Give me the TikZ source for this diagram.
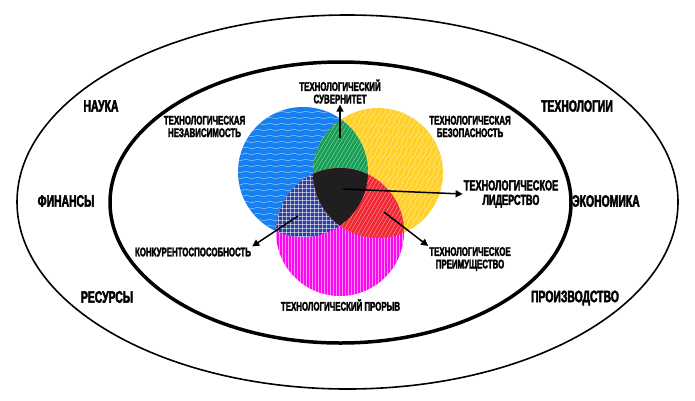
\documentclass[tikz,border=0pt]{standalone}
\usepackage{fontspec}
\newfontfamily\lblfont[FakeStretch=0.63,FakeBold=2.5]{Liberation Sans}
\usepackage{tikz}
\usetikzlibrary{decorations.pathmorphing,positioning,arrows.meta}

\definecolor{vblue}{RGB}{22,128,240}
\definecolor{vyellow}{RGB}{255,208,40}
\definecolor{vmagenta}{RGB}{250,10,240}
\definecolor{vgreen}{RGB}{24,158,84}
\definecolor{vnavy}{RGB}{44,62,160}
\definecolor{vred}{RGB}{240,40,52}
\definecolor{vblack}{RGB}{32,30,30}

\begin{document}
\begin{tikzpicture}[x=1pt,y=-1pt,>={Triangle[length=7pt,width=7pt]},
  lbl/.style={font=\lblfont\bfseries\fontsize{12.5}{12.5}\selectfont,align=center,inner sep=1pt},
  big/.style={font=\lblfont\bfseries\fontsize{16.5}{16.5}\selectfont,inner sep=1pt},
  arr/.style={->,line width=1.5pt},
  wave/.style={white,line width=.5pt,opacity=.55,decorate,decoration={snake,amplitude=.8pt,segment length=12pt}},
  hatch/.style={white,line width=.4pt,opacity=.55}]
  \useasboundingbox (0,0) rectangle (695,400);
  % rings
  \draw[line width=1.6pt] (347.5,202) ellipse [x radius=330.5,y radius=187];
  \draw[line width=3.5pt] (340.5,202.5) ellipse [x radius=230.5,y radius=140.5];
  % the three circles
  \fill[vblue] (303,172) circle [radius=65];
  \begin{scope}
    \clip (303,172) circle [radius=65];
    \foreach \yy in {106,112,...,240} \draw[wave] (230,\yy) -- (375,\yy);
  \end{scope}
  \fill[vyellow] (378,173) circle [radius=65];
  \begin{scope}
    \clip (378,173) circle [radius=65];
    \foreach \xx in {225,230,...,450} \draw[wave] (\xx,245) -- ++(90,-150);
  \end{scope}
  \fill[vmagenta] (340,232) circle [radius=64];
  \begin{scope}
    \clip (340,232) circle [radius=64];
    \foreach \xx in {276,279,...,405} \draw[hatch] (\xx,166) -- (\xx,298);
  \end{scope}
  % overlaps
  \begin{scope}
    \clip (303,172) circle [radius=65];
    \fill[vgreen] (378,173) circle [radius=65];
    \clip (378,173) circle [radius=65];
    \foreach \xx in {250,254,...,370} \draw[hatch] (\xx,200) -- ++(60,-100);
  \end{scope}
  \begin{scope}
    \clip (303,172) circle [radius=65];
    \clip (340,232) circle [radius=64];
    \fill[vnavy] (270,160) rectangle (410,300);
    \foreach \xx in {270,274,...,410} \draw[hatch] (\xx,160) -- (\xx,300);
    \foreach \yy in {160,164,...,300} \draw[hatch] (270,\yy) -- (410,\yy);
  \end{scope}
  \begin{scope}
    \clip (378,173) circle [radius=65];
    \clip (340,232) circle [radius=64];
    \fill[vred] (270,160) rectangle (450,300);
    \foreach \xx in {290,294,...,410} \draw[hatch] (\xx,240) -- ++(50,-85);
  \end{scope}
  \begin{scope}
    \clip (303,172) circle [radius=65];
    \clip (378,173) circle [radius=65];
    \fill[vblack] (340,232) circle [radius=64];
  \end{scope}
  % labels inside the ring
  \node[lbl] (sov) at (340,91.5) {ТЕХНОЛОГИЧЕСКИЙ\\СУВЕРНИТЕТ};
  \node[lbl] (indep) at (204.5,126.5) {ТЕХНОЛОГИЧЕСКАЯ\\НЕЗАВИСИМОСТЬ};
  \node[lbl] (secur) at (470,126.5) {ТЕХНОЛОГИЧЕСКАЯ\\БЕЗОПАСНОСТЬ};
  \node[lbl,font=\lblfont\bfseries\fontsize{14.5}{14.5}\selectfont] (lead) at (511,194) {ТЕХНОЛОГИЧЕСКОЕ\\ЛИДЕРСТВО};
  \node[lbl] (konk) at (193,252) {КОНКУРЕНТОСПОСОБНОСТЬ};
  \node[lbl] (adv) at (470,259) {ТЕХНОЛОГИЧЕСКОЕ\\ПРЕИМУЩЕСТВО};
  \node[lbl] (brk) at (340.5,305) {ТЕХНОЛОГИЧЕСКИЙ ПРОРЫВ};
  % labels between the rings
  \node[big] (sci) at (101,106) {НАУКА};
  \node[big] (tech) at (577,106) {ТЕХНОЛОГИИ};
  \node[big] (fin) at (66,201) {ФИНАНСЫ};
  \node[big] (eco) at (606,201) {ЭКОНОМИКА};
  \node[big] (res) at (107,297) {РЕСУРСЫ};
  \node[big] (prod) at (575,298) {ПРОИЗВОДСТВО};
  % arrows
  \coordinate (sovstart) at (340,138);
  \coordinate (leadstart) at (343,189);
  \coordinate (konkstart) at (298,216);
  \coordinate (advstart) at (384,212);
  \draw[arr] (sovstart) -- (sov.south);
  \draw[arr] (leadstart) -- (lead.west);
  \draw[arr] (konkstart) -- (konk.north east);
  \draw[arr] (advstart) -- (adv.north west);
\end{tikzpicture}
\end{document}
